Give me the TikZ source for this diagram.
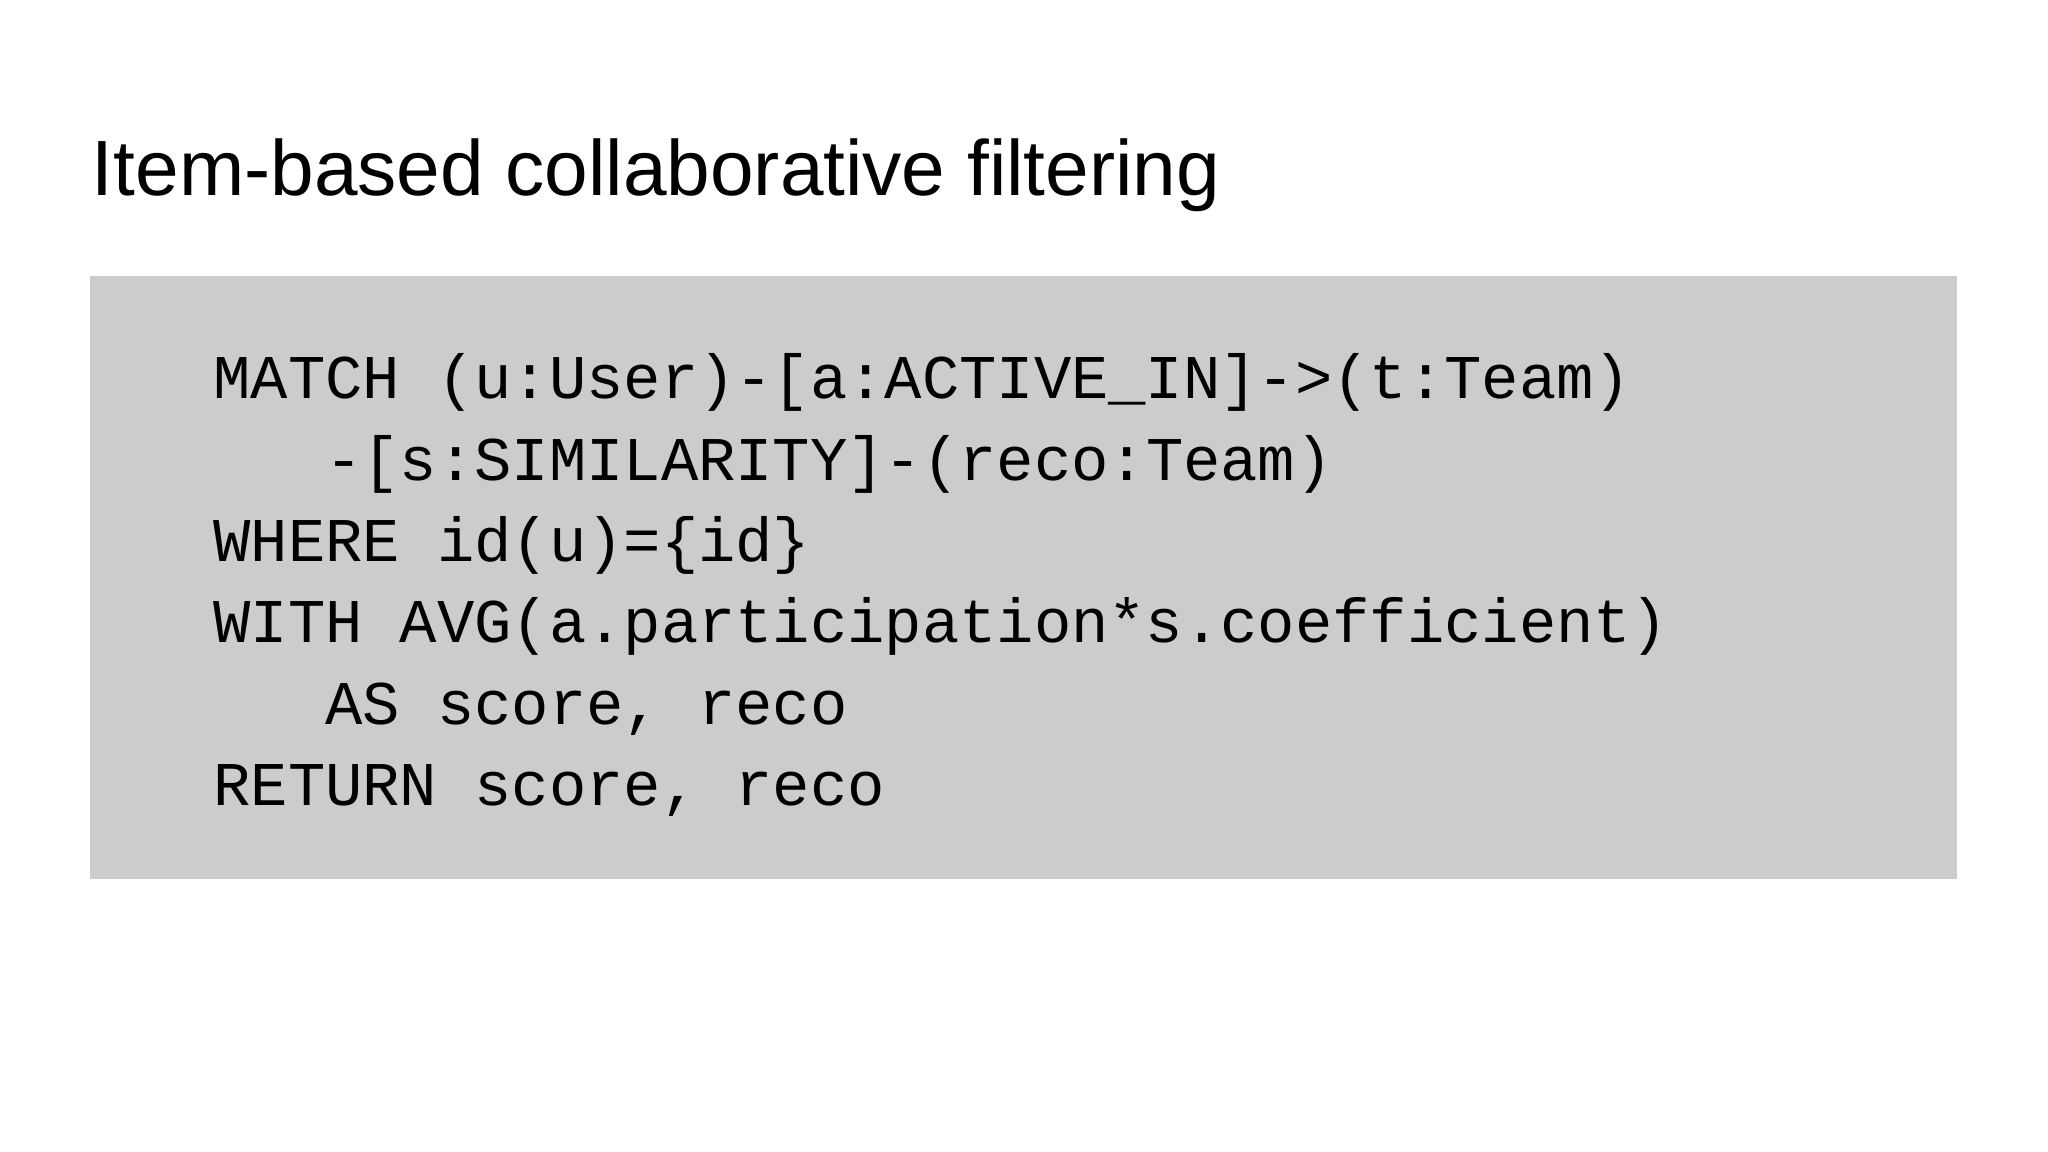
\documentclass[tikz,border=0pt]{standalone}
\usepackage{fontspec}
\setmainfont{Liberation Sans}
\newfontfamily\codefont{Liberation Mono}
\definecolor{boxgray}{HTML}{CCCCCC}
\begin{document}
\begin{tikzpicture}[x=0.5pt,y=-0.5pt,
  code/.style={anchor=base west,inner sep=0pt,font=\codefont\fontsize{23.8}{28}\selectfont}]
\useasboundingbox[fill=white] (0,0) rectangle (1568,882);
\node[anchor=base west,inner sep=0pt,font=\fontsize{30}{36}\selectfont] (title) at (70,150) {Item-based collaborative filtering};
\fill[boxgray] (69,211) rectangle (1498,673);
\node[code] (l1) at (163,305) {MATCH (u:User)-[a:ACTIVE\_IN]->(t:Team)};
\node[code] (l2) at (163,368) {\ \ \ -[s:SIMILARITY]-(reco:Team)};
\node[code] (l3) at (163,430) {WHERE id(u)=\{id\}};
\node[code] (l4) at (163,492) {WITH AVG(a.participation*s.coefficient)};
\node[code] (l5) at (163,555) {\ \ \ AS score, reco};
\node[code] (l6) at (163,617) {RETURN score, reco};
\end{tikzpicture}
\end{document}
